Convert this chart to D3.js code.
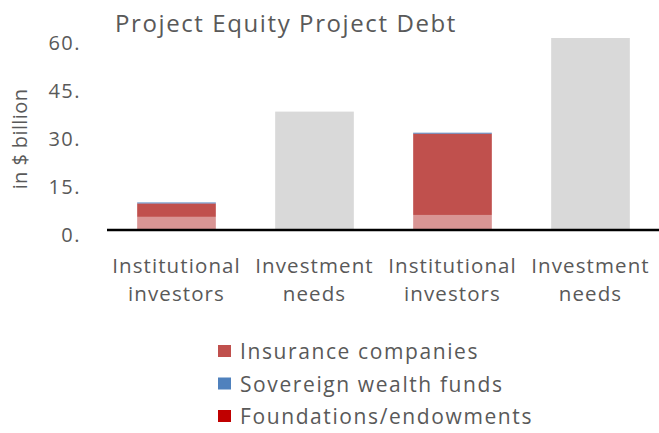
<!DOCTYPE html>
<html>
<head>
<meta charset="utf-8">
<script src="https://d3js.org/d3.v7.min.js"></script>
<style>
  body { margin: 0; background: #fff; }
  text { font-family: "Open Sans", sans-serif; fill: #595959; }
</style>
</head>
<body>
<svg width="659" height="433"></svg>
<script>
var categories = ["Institutional investors", "Investment needs", "Institutional investors", "Investment needs"];
var pensionFunds = [4.1, 0, 4.7, 0];
var insurance = [4.1, 0, 25.3, 0];
var sovereign = [0.3, 0, 0.3, 0];
var foundations = [0.1, 0, 0.1, 0];
var needs = [0, 37, 0, 60];
var yTicks = [0, 15, 30, 45, 60];

var series = [
    { name: "Pension funds", values: pensionFunds, color: "#D99594" },
    { name: "Insurance companies", values: insurance, color: "#C0504D" },
    { name: "Foundations/endowments", values: foundations, color: "#C00000" },
    { name: "Sovereign wealth funds", values: sovereign, color: "#4F81BD" },
    { name: "Investment needs", values: needs, color: "#D9D9D9" }
];
var legendOrder = ["Insurance companies", "Sovereign wealth funds", "Foundations/endowments"];

var svg = d3.select("svg");

var x = d3.scaleBand().domain(d3.range(categories.length)).range([107.5, 659.5]).paddingInner(0.43).paddingOuter(0.215);
var y = d3.scaleLinear().domain([0, 60]).range([230, 38]);

var table = categories.map(function (c, i) {
    var row = { i: i };
    series.forEach(function (s) { row[s.name] = s.values[i]; });
    return row;
});
var stack = d3.stack().keys(series.map(function (s) { return s.name; }))(table);

svg.append("g").selectAll("g")
    .data(stack)
    .enter().append("g")
    .attr("fill", function (d, k) { return series[k].color; })
    .selectAll("rect")
    .data(function (d) { return d; })
    .enter().append("rect")
    .attr("x", function (d) { return x(d.data.i); })
    .attr("y", function (d) { return y(d[1]); })
    .attr("width", x.bandwidth())
    .attr("height", function (d) { return y(d[0]) - y(d[1]); });

// baseline
svg.append("line")
    .attr("x1", 107).attr("x2", 659)
    .attr("y1", y(0)).attr("y2", y(0))
    .attr("stroke", "#000").attr("stroke-width", 2.5);

// y tick labels
svg.append("g").selectAll("text")
    .data(yTicks)
    .enter().append("text")
    .attr("x", 81)
    .attr("y", function (d) { return y(d) + 5; })
    .attr("dy", "0.35em")
    .attr("text-anchor", "end")
    .style("font-size", "20px")
    .style("letter-spacing", "1.5px")
    .text(function (d) { return d + "."; });

// y axis title
svg.append("text")
    .attr("transform", "translate(27,139) rotate(-90)")
    .attr("text-anchor", "middle")
    .style("font-size", "20px")
    .style("letter-spacing", "0.4px")
    .text("in $ billion");

// title
svg.append("text")
    .attr("x", 115).attr("y", 32)
    .style("font-size", "24px")
    .style("letter-spacing", "1.6px")
    .text("Project Equity Project Debt");

// category labels, one text per line
var lines = [];
categories.forEach(function (c, i) {
    c.split(" ").forEach(function (w, j) { lines.push({ i: i, j: j, w: w }); });
});
svg.append("g").selectAll("text")
    .data(lines)
    .enter().append("text")
    .attr("text-anchor", "middle")
    .attr("x", function (d) { return x(d.i) + x.bandwidth() / 2; })
    .attr("y", function (d) { return 273 + d.j * 27.5; })
    .style("font-size", "20.5px")
    .style("letter-spacing", "1.1px")
    .text(function (d) { return d.w; });

// legend
var leg = svg.append("g").selectAll("g")
    .data(legendOrder)
    .enter().append("g")
    .attr("transform", function (d, i) { return "translate(218," + (345 + i * 32.5) + ")"; });
leg.append("rect")
    .attr("width", 13).attr("height", 12)
    .attr("fill", function (d) { return series.find(function (s) { return s.name === d; }).color; });
leg.append("text")
    .attr("x", 22).attr("y", 7)
    .attr("dy", "0.35em")
    .style("font-size", "21px")
    .style("letter-spacing", "1.6px")
    .text(function (d) { return d; });
</script>
</body>
</html>
